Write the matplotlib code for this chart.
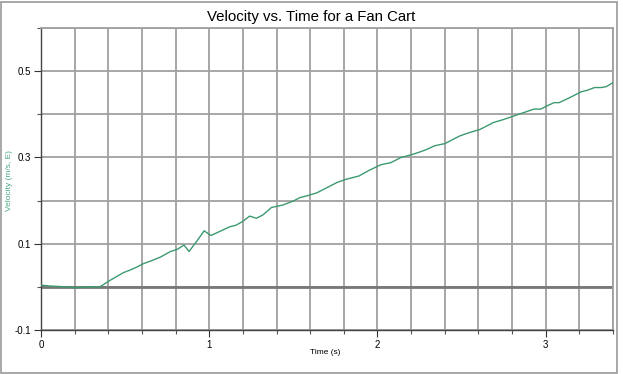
import matplotlib.pyplot as plt
from matplotlib.patches import Rectangle

# velocity readings off the fan cart run
time_s = [0.00, 0.05, 0.10, 0.15, 0.20, 0.25, 0.30, 0.35, 0.41, 0.45, 0.49, 0.53,
          0.57, 0.61, 0.66, 0.71, 0.77, 0.81, 0.85, 0.88, 0.93, 0.97, 1.01, 1.06,
          1.12, 1.16, 1.20, 1.24, 1.28, 1.32, 1.37, 1.44, 1.50, 1.54, 1.59, 1.64,
          1.70, 1.76, 1.81, 1.89, 1.95, 2.02, 2.08, 2.14, 2.19, 2.24, 2.29, 2.34,
          2.40, 2.45, 2.49, 2.55, 2.61, 2.65, 2.69, 2.75, 2.81, 2.87, 2.93, 2.97,
          3.01, 3.05, 3.08, 3.14, 3.21, 3.25, 3.29, 3.33, 3.36, 3.41]
velocity = [0.004, 0.002, 0.001, 0.000, -0.002, -0.001, 0.000, 0.000, 0.015, 0.024,
            0.033, 0.039, 0.046, 0.054, 0.061, 0.069, 0.082, 0.087, 0.097, 0.082,
            0.108, 0.130, 0.119, 0.128, 0.139, 0.143, 0.152, 0.164, 0.159, 0.167,
            0.184, 0.190, 0.199, 0.207, 0.212, 0.218, 0.230, 0.242, 0.249, 0.257,
            0.270, 0.283, 0.288, 0.300, 0.305, 0.311, 0.318, 0.327, 0.332, 0.342,
            0.350, 0.358, 0.365, 0.373, 0.381, 0.388, 0.396, 0.404, 0.412, 0.412,
            0.420, 0.427, 0.427, 0.438, 0.452, 0.456, 0.462, 0.462, 0.464, 0.476]

fig = plt.figure(figsize=(6.23, 3.74), dpi=100)
plt.rcParams['font.family'] = ['Liberation Sans', 'DejaVu Sans']
ax = fig.add_axes([41/623, 1 - 330/374, 572/623, 302/374])

grid_c = '#a0a0a0'
ax.set_xlim(0, 3.4)
ax.set_ylim(-0.1, 0.6)
for i in range(1, 18):
    ax.axvline(i * 0.2, color=grid_c, lw=1.3, zorder=1)
for i in range(0, 8):
    ax.axhline(-0.1 + i * 0.1, color=grid_c, lw=1.3, zorder=1)
ax.axhline(0, color='#777777', lw=2.0, zorder=1)

ax.plot(time_s, velocity, color='#3d9a70', lw=1.0, zorder=3)

ax.set_xticks([0, 1, 2, 3])
ax.set_xticklabels(['0', '1', '2', '3'])
ax.set_xticks([i * 0.2 for i in range(18)], minor=True)
ax.set_yticks([-0.1, 0.1, 0.3, 0.5])
ax.set_yticklabels(['-0.1', '0.1', '0.3', '0.5'])
ax.set_yticks([i * 0.1 - 0.1 for i in range(8)], minor=True)
ax.tick_params(axis='both', which='major', length=5, width=0.8, labelsize=7, pad=2, color='#333333')
ax.tick_params(axis='both', which='minor', length=3, width=0.8, color='#555555')

for s in ['top', 'right']:
    ax.spines[s].set_color(grid_c)
    ax.spines[s].set_linewidth(1.3)
for s in ['left', 'bottom']:
    ax.spines[s].set_color('#444444')
    ax.spines[s].set_linewidth(1.0)

fig.text(325/623, 1 - 352/374, 'Time (s)', ha='center', va='center', fontsize=6)
fig.text(10/623, 1 - 181/374, 'Velocity (m/s, E)', ha='center', va='center',
         rotation=90, fontsize=6, color='#4aa880')
fig.text(0.5, 1 - 17/374, 'Velocity vs. Time for a Fan Cart', ha='center', va='center', fontsize=10.8)

fig.patches.append(Rectangle((1/623, 1/374), 616/623, 371/374, transform=fig.transFigure,
                             fill=False, edgecolor='#999999', lw=1.2))

fig.savefig('out.png', dpi=100)
